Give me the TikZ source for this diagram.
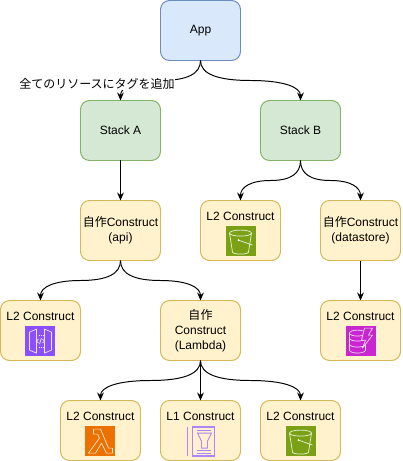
\documentclass[tikz,border=0pt]{standalone}
\usepackage{fontspec}
\setmainfont{Liberation Sans}
\newfontfamily\cjk{Noto Sans CJK JP}
\usetikzlibrary{calc,arrows.meta,positioning}
\definecolor{s3green}{HTML}{7AA116}
\definecolor{lambdaorange}{HTML}{ED7100}
\definecolor{apipurple}{HTML}{8C4FFF}
\definecolor{dbpink}{HTML}{C925D1}
\newcommand{\curvelink}[2]{%
\coordinate (mid) at ($(#1.south)!.5!(#2.north)$);
\draw[link] (#1.south) .. controls ($(#1.south)!.667!(#1.south |- mid)$) and ($(mid)!.667!(#1.south |- mid)$) .. (mid)
 .. controls ($(mid)!.667!(#2.north |- mid)$) and ($(#2.north)!.667!(#2.north |- mid)$) .. (#2.north);}
\tikzset{
iconline/.style={draw=white!85!#1, line width=0.5pt, line join=round},
pics/bucket/.style={code={
\begin{scope}[x=0.025cm,y=0.025cm,iconline=s3green]
\draw (0,8) ellipse (11 and 3);
\draw (-11,8) -- (-8,-11) arc[start angle=180,end angle=360,x radius=8,y radius=2] -- (11,8);
\draw (-2,1) -- (12,-4);
\fill[white] (-2,1) circle (1);
\end{scope}}},
pics/lambda/.style={code={
\begin{scope}[x=0.025cm,y=0.025cm,iconline=lambdaorange]
\draw (-7,12) -- (-7,7) -- (-3,7) -- (-1,3) -- (-12,-12) -- (-5,-12) -- (1,-2) -- (6,-12) -- (12,-12) -- (12,-7) -- (8,-7) -- (0,12) -- cycle;
\end{scope}}},
pics/gateway/.style={code={
\begin{scope}[x=0.025cm,y=0.025cm,iconline=apipurple]
\draw (-11,9) -- (-4,12) -- (-4,-12) -- (-11,-9) -- cycle;
\draw (11,9) -- (4,12) -- (4,-12) -- (11,-9) -- cycle;
\draw[densely dotted] (-4,6) -- (4,6) (-4,-6) -- (4,-6);
\draw (-2,2) -- (-4,0) -- (-2,-2) (2,2) -- (4,0) -- (2,-2) (1,3) -- (-1,-3);
\end{scope}}},
pics/dynamo/.style={code={
\begin{scope}[x=0.025cm,y=0.025cm,iconline=dbpink]
\draw (-3,8) ellipse (8 and 3);
\draw (-11,8) -- (-11,-9) (5,8) -- (5,-9);
\draw (-11,3) arc[start angle=180,end angle=360,x radius=8,y radius=3];
\draw (-11,-3) arc[start angle=180,end angle=360,x radius=8,y radius=3];
\draw (-11,-9) arc[start angle=180,end angle=360,x radius=8,y radius=3];
\draw[fill=dbpink] (4,13) -- (12,13) -- (8,6) -- (12,6) -- (2,-7) -- (5,1) -- (1,1) -- cycle;
\end{scope}}},
pics/funnelbook/.style={code={
\begin{scope}[x=0.025cm,y=0.025cm,draw=apipurple!70!white,line width=1pt]
\draw (-13,14) -- (-13,-15);
\draw (-8,14) rectangle (14,-15);
\draw (-4,10.5) -- (11,10.5) (-4,-9.5) -- (11,-9.5) (-4,-12.5) -- (11,-12.5);
\draw[line width=0.7pt] (-3,8) -- (11,8) -- (7,0) -- (7,-7) -- (1,-7) -- (1,0) -- cycle;
\end{scope}}}
}
\begin{document}
\begin{tikzpicture}[>={Stealth[length=0.2cm,width=0.17cm]}, font=\fontsize{8.54}{10.6}\selectfont,
box/.style={draw, line width=0.7pt, rounded corners=0.225cm, align=center, minimum width=2cm, minimum height=1.5cm, inner sep=0pt, outer sep=0pt},
appbox/.style={box, draw=appline, fill=appfill},
stackbox/.style={box, draw=stackline, fill=stackfill},
conbox/.style={box, draw=conline, fill=confill},
icon/.style={minimum size=0.75cm, inner sep=0pt, outer sep=0pt},
link/.style={->, line width=0.7pt},
tag/.style={fill=white, inner sep=0.5pt}]
\definecolor{appline}{HTML}{6C8EBF}\definecolor{appfill}{HTML}{DAE8FC}
\definecolor{stackline}{HTML}{82B366}\definecolor{stackfill}{HTML}{D5E8D4}
\definecolor{conline}{HTML}{D6B656}\definecolor{confill}{HTML}{FFF2CC}
\useasboundingbox (-5.0125,0.7625) rectangle (5.0375,-10.7625);
\node[appbox] (app) {App};
\node[stackbox, below=1cm of app, xshift=-2cm] (stacka) {Stack A};
\node[stackbox, below=1cm of app, xshift=2.5cm] (stackb) {Stack B};
\node[conbox, below=1cm of stacka] (api) {{\cjk 自作}Construct\\(api)};
\node[conbox, below=1cm of stackb, xshift=-1.5cm] (bucketone) {};
\node[conbox, below=1cm of stackb, xshift=1.5cm] (datastore) {{\cjk 自作}Construct\\(datastore)};
\node[conbox, below=1cm of api, xshift=-2cm] (gateway) {};
\node[conbox, below=1cm of api, xshift=2cm] (fnwrap) {{\cjk 自作}\\Construct\\(Lambda)};
\node[conbox, below=1cm of datastore] (table) {};
\node[conbox, below=1cm of fnwrap, xshift=-2.5cm] (fn) {};
\node[conbox, below=1cm of fnwrap] (logs) {};
\node[conbox, below=1cm of fnwrap, xshift=2.5cm] (buckettwo) {};
\foreach \b/\t/\c/\p in {bucketone/L2/s3green/bucket, gateway/L2/apipurple/gateway, table/L2/dbpink/dynamo, fn/L2/lambdaorange/lambda, logs/L1/confill/funnelbook, buckettwo/L2/s3green/bucket} {
\node at ($(\b.north)+(0,-0.39)$) (\b title) {\t\ Construct};
\node[icon, fill=\c, below=0.64cm of \b.north] (\b icon) {};
\pic at (\b icon) {\p};
}
\curvelink{app}{stacka}
\curvelink{app}{stackb}
\curvelink{stackb}{bucketone}
\curvelink{stackb}{datastore}
\curvelink{api}{gateway}
\curvelink{api}{fnwrap}
\curvelink{fnwrap}{fn}
\curvelink{fnwrap}{buckettwo}
\draw[link] (stacka) -- (api);
\draw[link] (datastore) -- (table);
\draw[link] (fnwrap) -- (logs);
\node[tag] at ($(stacka.north)+(-0.5875,0.41)$) (tagnote) {\cjk 全てのリソースにタグを追加};
\end{tikzpicture}
\end{document}
